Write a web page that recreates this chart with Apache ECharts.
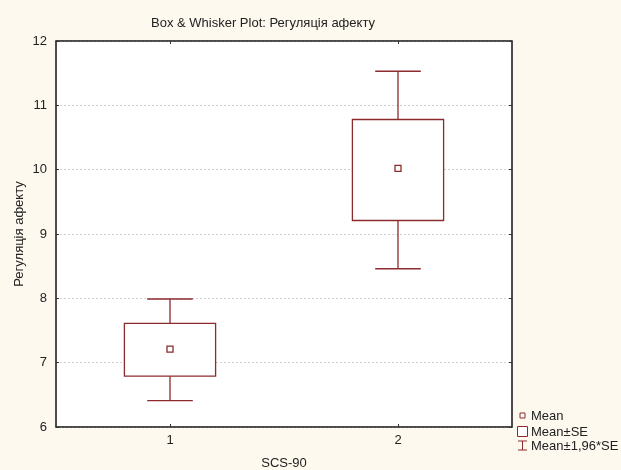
<!DOCTYPE html>
<html>
<head>
<meta charset="utf-8">
<script src="https://cdn.jsdelivr.net/npm/echarts@6/dist/echarts.min.js"></script>
<style>
  html, body { margin: 0; padding: 0; background: #fef9ef; }
  #chart { width: 621px; height: 470px; }
</style>
</head>
<body>
<div id="chart"></div>
<script>
// groups on the SCS-90 axis
const groups = [1, 2];
const groupLabels = ["1", "2"];
// values
const means = [7.21, 10.02];
const seLow = [6.79, 9.21];
const seHigh = [7.61, 10.78];
const ciLow = [6.41, 8.46];
const ciHigh = [7.99, 11.53];
const yTicks = [6, 7, 8, 9, 10, 11, 12];

const font = "'Liberation Sans', Arial, sans-serif";
const red = "#8b2b2e";
const txt = "#222";

const myChart = echarts.init(document.getElementById("chart"), null, { renderer: "canvas" });

const rows = groups.map((g, i) => [g, means[i], seLow[i], seHigh[i], ciLow[i], ciHigh[i]]);

const option = {
  backgroundColor: "#fef9ef",
  animation: false,
  title: {
    text: "Box & Whisker Plot: Регуляція афекту",
    left: 258,
    top: 12,
    textAlign: "center",
    textStyle: { fontFamily: font, fontSize: 13, fontWeight: "normal", color: txt },
  },
  grid: {
    left: 56,
    right: 109,
    top: 41,
    bottom: 43,
    outerBoundsMode: "none",
    containLabel: false,
    show: true,
    backgroundColor: "#fff",
    borderColor: "#333",
    borderWidth: 1,
  },
  xAxis: [
    {
      type: "value",
      min: 0.5,
      max: 2.5,
      position: "bottom",
      name: "SCS-90",
      nameLocation: "middle",
      nameGap: 30,
      nameTextStyle: { fontFamily: font, fontSize: 13, color: txt },
      axisLine: { show: true, onZero: false, lineStyle: { color: "#333", width: 1.5 } },
      axisTick: { show: true, inside: true, length: 3, customValues: groups, lineStyle: { color: "#333" } },
      axisLabel: {
        customValues: groups,
        margin: 7,
        fontFamily: font,
        fontSize: 13,
        color: txt,
        formatter: (v) => groupLabels[groups.indexOf(v)] || "",
      },
      splitLine: { show: false },
    },
    {
      type: "value",
      min: 0.5,
      max: 2.5,
      position: "top",
      axisLine: { show: true, onZero: false, lineStyle: { color: "#333", width: 1.5 } },
      axisTick: { show: true, inside: true, length: 3, customValues: groups, lineStyle: { color: "#333" } },
      axisLabel: { show: false },
      splitLine: { show: false },
    },
  ],
  yAxis: [
    {
      type: "value",
      min: 6,
      max: 12,
      interval: 1,
      position: "left",
      name: "Регуляція афекту",
      nameLocation: "middle",
      nameGap: 30,
      nameMoveOverlap: false,
      nameTextStyle: { fontFamily: font, fontSize: 13, color: txt },
      axisLine: { show: true, onZero: false, lineStyle: { color: "#333", width: 1.5 } },
      axisTick: { show: true, inside: true, length: 3, lineStyle: { color: "#333" } },
      axisLabel: {
        margin: 9,
        fontFamily: font,
        fontSize: 13,
        color: txt,
        formatter: (v) => (yTicks.includes(v) ? String(v) : ""),
      },
      splitLine: { show: true, lineStyle: { color: "#d0d0d0", type: [2, 2], width: 1 } },
    },
    {
      type: "value",
      min: 6,
      max: 12,
      interval: 1,
      position: "right",
      axisLine: { show: true, onZero: false, lineStyle: { color: "#333", width: 1.5 } },
      axisTick: { show: true, inside: true, length: 3, lineStyle: { color: "#333" } },
      axisLabel: { show: false },
      splitLine: { show: false },
    },
  ],
  series: [
    {
      type: "custom",
      name: "Box",
      xAxisIndex: 0,
      yAxisIndex: 0,
      data: rows,
      renderItem: function (params, api) {
        const x = api.value(0);
        const m = api.coord([x, api.value(1)]);
        const sLo = api.coord([x, api.value(2)]);
        const sHi = api.coord([x, api.value(3)]);
        const cLo = api.coord([x, api.value(4)]);
        const cHi = api.coord([x, api.value(5)]);
        const boxHalf = api.size([0.2, 0])[0];
        const capHalf = api.size([0.1, 0])[0];
        const stroke = { stroke: red, lineWidth: 1.3, fill: null };
        return {
          type: "group",
          children: [
            { type: "line", shape: { x1: m[0], y1: sHi[1], x2: m[0], y2: cHi[1] }, style: stroke },
            { type: "line", shape: { x1: m[0], y1: sLo[1], x2: m[0], y2: cLo[1] }, style: stroke },
            { type: "line", shape: { x1: m[0] - capHalf, y1: cHi[1], x2: m[0] + capHalf, y2: cHi[1] }, style: stroke },
            { type: "line", shape: { x1: m[0] - capHalf, y1: cLo[1], x2: m[0] + capHalf, y2: cLo[1] }, style: stroke },
            {
              type: "rect",
              shape: { x: m[0] - boxHalf, y: sHi[1], width: boxHalf * 2, height: sLo[1] - sHi[1] },
              style: { stroke: red, lineWidth: 1.3, fill: "#fff" },
            },
            {
              type: "rect",
              shape: { x: m[0] - 3, y: m[1] - 3, width: 6, height: 6 },
              style: { stroke: red, lineWidth: 1.3, fill: "#fff" },
            },
          ],
        };
      },
    },
  ],
  graphic: [
    { type: "rect", shape: { x: 520, y: 413, width: 5, height: 5 }, style: { stroke: red, lineWidth: 1, fill: "#fff" } },
    { type: "text", x: 531, y: 416, style: { text: "Mean", font: "13px " + font, fill: txt, verticalAlign: "middle" } },
    { type: "rect", shape: { x: 517.5, y: 426.5, width: 10, height: 10 }, style: { stroke: red, lineWidth: 1, fill: "#fff" } },
    { type: "text", x: 531, y: 432, style: { text: "Mean±SE", font: "13px " + font, fill: txt, verticalAlign: "middle" } },
    { type: "line", shape: { x1: 522.5, y1: 441, x2: 522.5, y2: 450 }, style: { stroke: red, lineWidth: 1 } },
    { type: "line", shape: { x1: 518, y1: 441, x2: 527, y2: 441 }, style: { stroke: red, lineWidth: 1 } },
    { type: "line", shape: { x1: 518, y1: 450, x2: 527, y2: 450 }, style: { stroke: red, lineWidth: 1 } },
    { type: "text", x: 531, y: 446, style: { text: "Mean±1,96*SE", font: "13px " + font, fill: txt, verticalAlign: "middle" } },
  ],
};

myChart.setOption(option);
</script>
</body>
</html>
